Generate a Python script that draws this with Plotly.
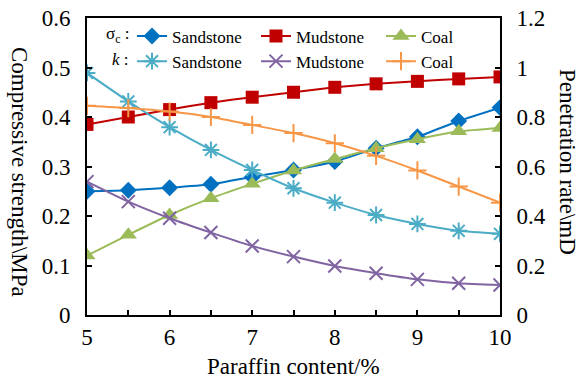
import plotly.graph_objects as go

paraffin = [5, 5.5, 6, 6.5, 7, 7.5, 8, 8.5, 9, 9.5, 10]
sig_sandstone = [0.250, 0.252, 0.257, 0.264, 0.279, 0.293, 0.310, 0.337, 0.360, 0.392, 0.419]
sig_mudstone = [0.385, 0.400, 0.415, 0.429, 0.440, 0.450, 0.460, 0.467, 0.472, 0.477, 0.481]
sig_coal = [0.120, 0.162, 0.202, 0.236, 0.265, 0.292, 0.315, 0.337, 0.355, 0.371, 0.378]
k_sandstone = [0.978, 0.863, 0.759, 0.667, 0.586, 0.512, 0.454, 0.404, 0.368, 0.340, 0.328]
k_mudstone = [0.539, 0.458, 0.391, 0.333, 0.279, 0.236, 0.198, 0.169, 0.144, 0.128, 0.121]
k_coal = [0.845, 0.836, 0.822, 0.800, 0.768, 0.735, 0.694, 0.643, 0.584, 0.519, 0.454]

FONT = "Liberation Serif, Times New Roman, serif"
W, H = 580, 380
L, R, T, B = 87, 80, 18, 65
fig = go.Figure()

def add(y, name, color, symbol, size, legend, yaxis, mline=0):
    fig.add_trace(go.Scatter(
        x=paraffin, y=y, name=name, mode="lines+markers",
        line=dict(color=color, width=2, shape="spline", smoothing=0.5),
        marker=dict(color=color, symbol=symbol, size=size,
                    line=dict(color=color, width=mline)),
        legend=legend, yaxis=yaxis))

add(sig_sandstone, "Sandstone", "#0070C0", "diamond", 13, "legend", "y")
add(sig_mudstone, "Mudstone", "#C00000", "square", 13, "legend2", "y")
add(sig_coal, "Coal", "#9BBB59", "triangle-up", 15, "legend3", "y")
add(k_sandstone, "Sandstone", "#4BACC6", "asterisk-open", 14, "legend", "y2", 2)
add(k_mudstone, "Mudstone", "#8064A2", "x-thin-open", 13, "legend2", "y2", 2)
add(k_coal, "Coal", "#F79646", "cross-thin-open", 13, "legend3", "y2", 2)

axis_common = dict(showline=True, linecolor="black", linewidth=2, ticks="inside",
                   ticklen=5, tickwidth=1.5, tickcolor="black", showgrid=False,
                   zeroline=False, automargin=False,
                   tickfont=dict(family=FONT, size=23, color="black"))

def cx(xp): return xp / W
def cy(yp): return 1 - yp / H

leg_common = dict(orientation="v", xanchor="left", yanchor="top",
                  xref="container", yref="container", itemwidth=30,
                  tracegroupgap=0, traceorder="normal",
                  bgcolor="rgba(0,0,0,0)", font=dict(family=FONT, size=17, color="black"))

fig.update_layout(
    width=W, height=H,
    margin=dict(l=L, r=R, t=T, b=B, autoexpand=False),
    plot_bgcolor="white", paper_bgcolor="white",
    font=dict(family=FONT, color="black"),
    xaxis=dict(range=[5, 10], dtick=1, tick0=5, mirror=True,
               minor=dict(dtick=0.5, ticks="inside", ticklen=5, tickwidth=1.5, tickcolor="black"),
               **axis_common),
    yaxis=dict(range=[0, 0.6], dtick=0.1, ticklabelstandoff=10, **axis_common),
    yaxis2=dict(range=[0, 1.2], dtick=0.2, overlaying="y", side="right",
                ticklabelstandoff=10, **axis_common),
    legend=dict(x=cx(132), y=cy(18.5), **leg_common),
    legend2=dict(x=cx(256), y=cy(18.5), **leg_common),
    legend3=dict(x=cx(381), y=cy(18.5), **leg_common),
)

pw, ph = W - L - R, H - T - B
def px(xp): return (xp - L) / pw
def py(yp): return (H - B - yp) / ph

fig.add_annotation(text="σ<sub>c</sub> :", x=px(131), y=py(35), xref="paper", yref="paper",
                   xanchor="right", yanchor="middle", showarrow=False,
                   font=dict(family=FONT, size=17, color="black"))
fig.add_annotation(text="<i>k</i> :", x=px(131), y=py(59), xref="paper", yref="paper",
                   xanchor="right", yanchor="middle", showarrow=False,
                   font=dict(family=FONT, size=17, color="black"))
fig.add_annotation(text="Compressive strength\\MPa", x=px(20), y=py(172), xref="paper", yref="paper",
                   textangle=90, xanchor="center", yanchor="middle", showarrow=False,
                   font=dict(family=FONT, size=23, color="black"))
fig.add_annotation(text="Penetration rate\\mD", x=px(568), y=py(162), xref="paper", yref="paper",
                   textangle=90, xanchor="center", yanchor="middle", showarrow=False,
                   font=dict(family=FONT, size=23, color="black"))
fig.add_annotation(text="Paraffin content/%", x=px(293), y=py(366), xref="paper", yref="paper",
                   xanchor="center", yanchor="middle", showarrow=False,
                   font=dict(family=FONT, size=23, color="black"))

fig.write_html("out.html", config={"displayModeBar": False},
               post_script="document.body.style.margin='0';document.body.style.padding='0';")
